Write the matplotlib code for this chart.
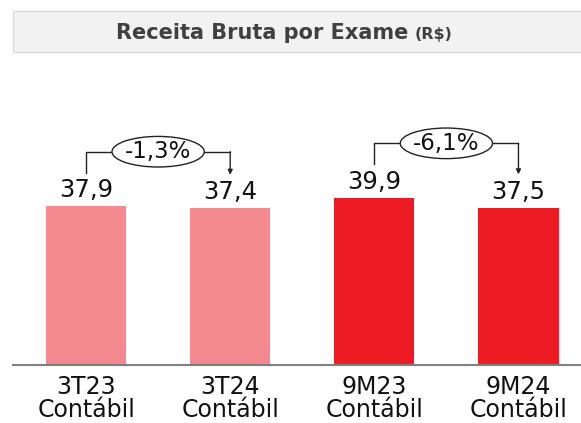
import numpy as np
import matplotlib.pyplot as plt
from matplotlib.patches import Ellipse, Rectangle

categories = ['3T23\nContábil', '3T24\nContábil', '9M23\nContábil', '9M24\nContábil']
values = [37.9, 37.4, 39.9, 37.5]
value_labels = ['37,9', '37,4', '39,9', '37,5']
colors = ['#f4898f', '#f4898f', '#ed1c24', '#ed1c24']
# (from bar, to bar, label)
changes = [(0, 1, '-1,3%'), (2, 3, '-6,1%')]

W, H = 581, 423
fig = plt.figure(figsize=(W / 100, H / 100), dpi=100)

# title box
fig.patches.append(Rectangle((13 / W, 1 - 52 / H), 1.0, 41 / H, transform=fig.transFigure,
                             facecolor='#f2f2f2', edgecolor='#d9d9d9', lw=1.0, zorder=0))
fig.text(408 / W, 1 - 33 / H, 'Receita Bruta por Exame', ha='right', va='center',
         fontsize=15, fontweight='bold', color='#404040')
fig.text(415 / W, 1 - 34 / H, '(R$)', ha='left', va='center',
         fontsize=11.5, fontweight='bold', color='#404040')

ax = fig.add_axes([13 / W, (H - 365) / H, (W - 13) / W, 295 / H])
x = np.arange(len(values))
ax.bar(x, values, width=0.556, color=colors, zorder=2)
ax.set_xlim(-0.507, 3.434)
ax.set_ylim(0, 70.4)

for xi, v, lab in zip(x, values, value_labels):
    ax.text(xi, v + 1.0, lab, ha='center', va='bottom', fontsize=17.5, color='#111111')

for a, b, lab in changes:
    y_top = max(values[a], values[b]) + 13
    xm = (a + b) / 2
    ew = 0.64
    ax.plot([a, a, xm - ew / 2], [values[a] + 8, y_top, y_top], color='#222222', lw=1)
    ax.plot([xm + ew / 2, b], [y_top, y_top], color='#222222', lw=1)
    ax.annotate('', xy=(b, values[b] + 8), xytext=(b, y_top),
                arrowprops=dict(arrowstyle='-|>', color='#222222', lw=1,
                                mutation_scale=7, shrinkA=0, shrinkB=0))
    ax.add_patch(Ellipse((xm, y_top), ew, 7.3, facecolor='white', edgecolor='#222222', lw=1, zorder=3))
    ax.text(xm, y_top, lab, ha='center', va='center', fontsize=16.5, color='#111111', zorder=4)

ax.set_xticks(x)
ax.set_xticklabels(categories, fontsize=17, color='#111111', linespacing=0.95)
ax.tick_params(axis='x', length=0, pad=7)
ax.set_yticks([])
for s in ['top', 'left', 'right']:
    ax.spines[s].set_visible(False)
ax.spines['bottom'].set_color('#7f7f7f')
ax.spines['bottom'].set_linewidth(1.5)

fig.savefig('out.png', dpi=100)
